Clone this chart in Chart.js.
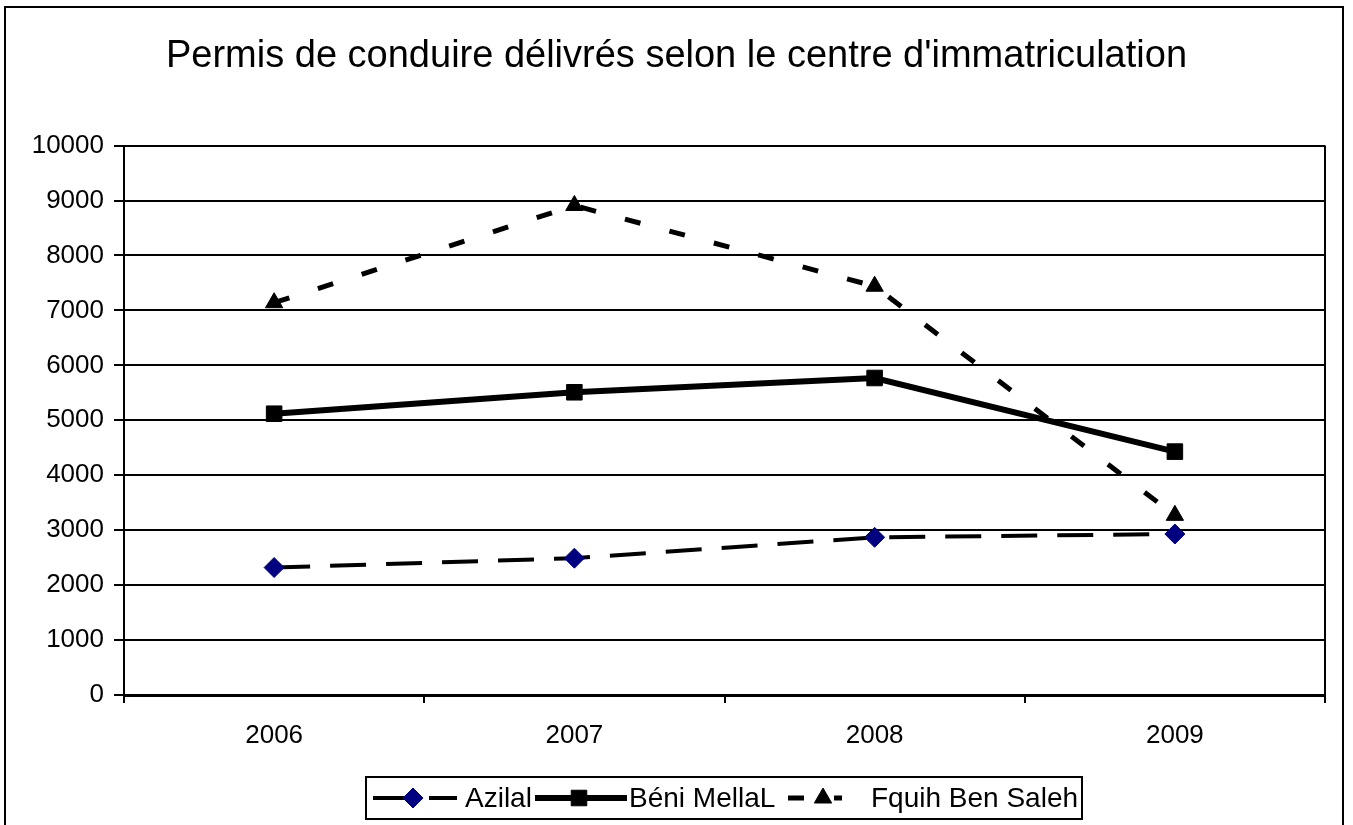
<!DOCTYPE html>
<html>
<head>
<meta charset="utf-8">
<title>Permis de conduire</title>
<script src="https://cdn.jsdelivr.net/npm/chart.js@4.4.0/dist/chart.umd.min.js"></script>
<style>
  body { margin: 0; background: #fff; }
  canvas { display: block; }
</style>
</head>
<body>
<canvas id="chart" width="1353" height="825"></canvas>
<script>
const titleText = "Permis de conduire délivrés selon le centre d'immatriculation";
const years = ["2006", "2007", "2008", "2009"];
const seriesNames = ["Azilal", "Béni MellaL", "Fquih Ben Saleh"];
const azilal = [2320, 2490, 2870, 2930];
const beniMellal = [5120, 5510, 5770, 4430];
const fquihBenSaleh = [7140, 8910, 7440, 3270];
const yTicks = [0, 1000, 2000, 3000, 4000, 5000, 6000, 7000, 8000, 9000, 10000];

const FONT = "'Liberation Sans', Arial, sans-serif";

// where each legend sample sits inside the legend box (px from box left)
const legendSlots = [
  { from: 7, to: 91, marker: 47, text: 99 },
  { from: 169, to: 261, marker: 213, text: 263 },
  { from: 422, to: 476, marker: 457, text: 505 }
];

const framePlugin = {
  id: "frame",
  beforeDatasetsDraw(chart) {
    const { ctx, chartArea } = chart;
    ctx.save();
    ctx.strokeStyle = "#000";
    ctx.lineWidth = 2;
    ctx.beginPath();
    ctx.moveTo(chartArea.right, chartArea.top);
    ctx.lineTo(chartArea.right, chartArea.bottom);
    ctx.stroke();
    ctx.restore();
  },
  afterDraw(chart) {
    const ctx = chart.ctx;
    ctx.save();
    // outer chart border
    ctx.strokeStyle = "#000";
    ctx.lineWidth = 2;
    ctx.strokeRect(5, 7, 1338, 900);

    // legend
    const box = { left: 366, top: 777, width: 716, height: 42 };
    ctx.strokeRect(box.left, box.top, box.width, box.height);
    const cy = box.top + box.height / 2;
    chart.data.datasets.forEach((ds, i) => {
      const slot = legendSlots[i];
      ctx.save();
      ctx.strokeStyle = ds.borderColor;
      ctx.lineWidth = ds.borderWidth;
      ctx.setLineDash(ds.borderDash || []);
      ctx.beginPath();
      ctx.moveTo(box.left + slot.from, cy);
      ctx.lineTo(box.left + slot.to, cy);
      ctx.stroke();
      ctx.setLineDash([]);
      ctx.fillStyle = ds.pointBackgroundColor;
      ctx.strokeStyle = ds.pointBorderColor;
      ctx.lineWidth = 1;
      Chart.helpers.drawPoint(ctx, {
        pointStyle: ds.pointStyle,
        radius: ds.pointRadius,
        rotation: 0,
        borderWidth: 1
      }, box.left + slot.marker, cy);
      ctx.fillStyle = "#000";
      ctx.font = "28px " + FONT;
      ctx.textBaseline = "middle";
      ctx.textAlign = "left";
      ctx.fillText(ds.label, box.left + slot.text, cy + 1);
      ctx.restore();
    });
    ctx.restore();
  }
};

new Chart(document.getElementById("chart"), {
  type: "line",
  data: {
    labels: years,
    datasets: [
      {
        label: seriesNames[0],
        data: azilal,
        borderColor: "#000",
        borderWidth: 4,
        borderDash: [36, 20],
        pointStyle: "rectRot",
        pointRadius: 10,
        pointBackgroundColor: "#000080",
        pointBorderColor: "#000080",
        pointBorderWidth: 1,
        order: 2
      },
      {
        label: seriesNames[1],
        data: beniMellal,
        borderColor: "#000",
        borderWidth: 6,
        pointStyle: "rect",
        pointRadius: 11,
        pointBackgroundColor: "#000",
        pointBorderColor: "#000",
        pointBorderWidth: 1,
        order: 1
      },
      {
        label: seriesNames[2],
        data: fquihBenSaleh,
        borderColor: "#000",
        borderWidth: 5,
        borderDash: [16, 30],
        pointStyle: "triangle",
        pointRadius: 10,
        pointBackgroundColor: "#000",
        pointBorderColor: "#000",
        pointBorderWidth: 1,
        order: 0
      }
    ]
  },
  options: {
    responsive: false,
    animation: false,
    devicePixelRatio: 1,
    layout: { padding: { left: 28, right: 28, top: 0, bottom: 70 } },
    elements: { line: { tension: 0 } },
    plugins: {
      legend: { display: false },
      tooltip: { enabled: false },
      title: {
        display: true,
        text: titleText,
        color: "#000",
        font: { family: FONT, size: 38, weight: "normal" },
        padding: { top: 34, bottom: 66 }
      }
    },
    scales: {
      x: {
        offset: true,
        grid: {
          offset: true,
          drawOnChartArea: false,
          drawTicks: true,
          tickLength: 8,
          color: "#000",
          lineWidth: 2
        },
        border: { display: true, color: "#000", width: 3 },
        ticks: {
          color: "#000",
          font: { family: FONT, size: 26 },
          padding: 17,
          maxRotation: 0
        },
        afterFit(scale) { scale.height = 60; }
      },
      y: {
        min: 0,
        max: 10000,
        afterBuildTicks(scale) { scale.ticks = yTicks.map(v => ({ value: v })); },
        grid: {
          color: "#000",
          lineWidth: 2,
          tickLength: 10
        },
        border: { display: true, color: "#000", width: 2 },
        ticks: {
          color: "#000",
          font: { family: FONT, size: 26 },
          padding: 10,
          callback: v => String(v)
        },
        afterFit(scale) { scale.width = 96; }
      }
    }
  },
  plugins: [framePlugin]
});
</script>
</body>
</html>
